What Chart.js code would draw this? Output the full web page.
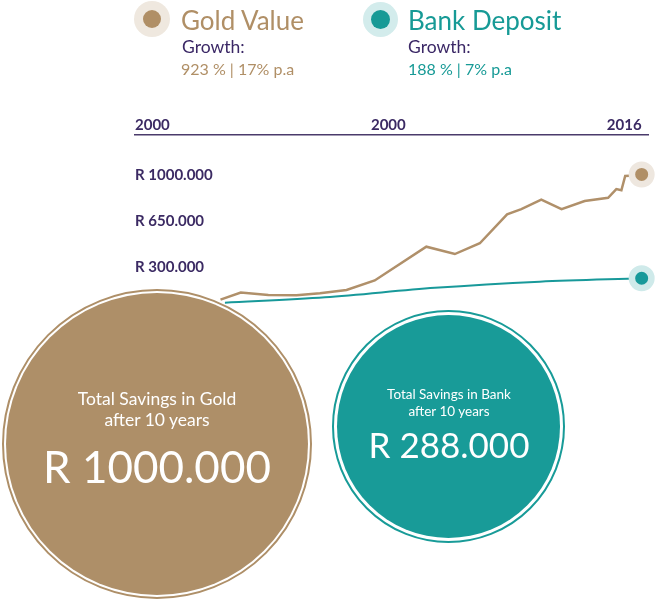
<!DOCTYPE html>
<html>
<head>
<meta charset="utf-8">
<script src="https://cdn.jsdelivr.net/npm/chart.js@4"></script>
<style>
  html, body { margin: 0; padding: 0; background: #fff; }
  body { width: 655px; height: 599px; position: relative; overflow: hidden; font-family: Lato, "Open Sans", sans-serif; }
  .abs { position: absolute; white-space: nowrap; line-height: 1; }
  .ring { position: absolute; border-radius: 50%; box-sizing: border-box; }
  .ctr { text-align: center; color: #fff; }
  #wrap { position: absolute; left: 0; top: 0; width: 655px; height: 320px; }
</style>
</head>
<body>

<div id="wrap"><canvas id="lineChart"></canvas></div>

<!-- legend header -->
<div class="ring" style="left:134px;top:1px;width:36px;height:36px;background:#efe8df;"></div>
<div class="ring" style="left:143px;top:10px;width:18px;height:18px;background:#b08f66;"></div>
<div class="abs" style="left:181px;top:7px;font-size:26px;color:#b08f66;">Gold Value</div>
<div class="abs" style="left:182px;top:38px;font-size:17.5px;color:#3b2866;">Growth:</div>
<div class="abs" style="left:181px;top:61px;font-size:16px;color:#b08f66;">923 % | 17% p.a</div>

<div class="ring" style="left:363px;top:2px;width:35px;height:35px;background:#d3ecec;"></div>
<div class="ring" style="left:371px;top:10px;width:19px;height:19px;background:#179a96;"></div>
<div class="abs" style="left:408px;top:7px;font-size:26px;color:#179a96;">Bank Deposit</div>
<div class="abs" style="left:408px;top:38px;font-size:17.5px;color:#3b2866;">Growth:</div>
<div class="abs" style="left:408px;top:61px;font-size:16px;color:#179a96;">188 % | 7% p.a</div>

<!-- gold total -->
<div class="ring" style="left:2px;top:289px;width:310px;height:310px;border:2px solid #ae8f68;"></div>
<div class="ring" style="left:6px;top:293px;width:302px;height:302px;background:#ae8f68;"></div>
<div class="abs ctr" style="left:7px;width:300px;top:389.5px;font-size:17.5px;">Total Savings in Gold</div>
<div class="abs ctr" style="left:7px;width:300px;top:411px;font-size:17.5px;">after 10 years</div>
<div class="abs ctr" style="left:7px;width:300px;top:444px;font-size:44px;">R 1000.000</div>

<!-- bank total -->
<div class="ring" style="left:332px;top:310px;width:233px;height:233px;border:2px solid #189b98;"></div>
<div class="ring" style="left:337px;top:315px;width:223px;height:223px;background:#189b98;"></div>
<div class="abs ctr" style="left:349px;width:200px;top:388px;font-size:13.5px;">Total Savings in Bank</div>
<div class="abs ctr" style="left:349px;width:200px;top:404.5px;font-size:13.5px;">after 10 years</div>
<div class="abs ctr" style="left:349px;width:200px;top:427px;font-size:35px;">R 288.000</div>

<script>
// values (year, rand)
const goldYears = [2002.70, 2003.34, 2004.21, 2005.10, 2005.84, 2006.68, 2007.57, 2009.20, 2010.10, 2010.89,
                   2011.75, 2012.20, 2012.83, 2013.47, 2014.20, 2014.94, 2015.20, 2015.36, 2015.48, 2015.62, 2016.00];
const goldValues = [48000, 103000, 84000, 81000, 97000, 122000, 194000, 451000, 395000, 477000,
                    697000, 737000, 808000, 737000, 798000, 823000, 889000, 880000, 988000, 991000, 1000000];

const bankYears = [2002.84, 2006.00, 2009.47, 2012.78, 2016.00];
const bankValues = [25000, 66000, 138000, 185000, 211000];

const xTicks = [2000, 2008, 2016];
const xTickLabels = ["2000", "2000", "2016"];
const yTicks = [300000, 650000, 1000000];
const yTickLabels = ["R 300.000", "R 650.000", "R 1000.000"];

const purple = "#3b2a63";


function toPoints(xs, ys) {
    return xs.map((x, i) => ({ x: x, y: ys[i] }));
}

function lastOnly(value) {
    return ctx => ctx.dataIndex === ctx.dataset.data.length - 1 ? value : 0;
}


new Chart(
    document.getElementById("lineChart"),
    {
        type: "line",

        data: {
            datasets: [
                {
                    label: "Gold Value",
                    data: toPoints(goldYears, goldValues),
                    borderColor: "#b0906a",
                    borderWidth: 2.5,
                    tension: 0,
                    pointRadius: lastOnly(9.75),
                    pointBorderWidth: 6.5,
                    pointBackgroundColor: "#b08f66",
                    pointBorderColor: "#eee7df",
                    clip: false
                },
                {
                    label: "Bank Deposit",
                    data: toPoints(bankYears, bankValues),
                    borderColor: "#18999a",
                    borderWidth: 2,
                    cubicInterpolationMode: "monotone",
                    pointRadius: lastOnly(9.75),
                    pointBorderWidth: 6.5,
                    pointBackgroundColor: "#17999a",
                    pointBorderColor: "#cfeaea",
                    clip: false
                }
            ]
        },

        options: {
            responsive: true,
            maintainAspectRatio: false,
            animation: false,
            events: [],

            layout: {
                autoPadding: false,
                padding: { left: 135, right: 7, top: 105, bottom: 14 }
            },

            scales: {
                x: {
                    type: "linear",
                    position: "top",
                    min: 2000,
                    max: 2016.2,
                    afterBuildTicks: scale => {
                        scale.ticks = xTicks.map(v => ({ value: v }));
                    },
                    afterFit: scale => {
                        scale.height = 30;
                        scale.paddingLeft = 0;
                        scale.paddingRight = 0;
                    },
                    grid: { display: false, drawTicks: false },
                    border: { display: true, color: "#4a3b6b", width: 1.5 },
                    ticks: {
                        align: "inner",
                        padding: 1,
                        maxRotation: 0,
                        autoSkip: false,
                        color: purple,
                        font: { family: "Lato", size: 15, weight: "bold" },
                        callback: (value, i) => xTickLabels[i]
                    }
                },

                y: {
                    min: 0,
                    max: 1300000,
                    afterBuildTicks: scale => {
                        scale.ticks = yTicks.map(v => ({ value: v }));
                    },
                    afterFit: scale => {
                        scale.width = 0;
                        scale.paddingTop = 0;
                        scale.paddingBottom = 0;
                    },
                    grid: { display: false, drawTicks: false },
                    border: { display: false },
                    ticks: {
                        mirror: true,
                        padding: 0,
                        labelOffset: 1,
                        autoSkip: false,
                        color: purple,
                        font: { family: "Lato", size: 15, weight: "bold" },
                        callback: (value, i) => yTickLabels[i]
                    }
                }
            },

            plugins: {
                legend: { display: false },
                tooltip: { enabled: false }
            }
        }
    }
);
</script>
</body>
</html>
